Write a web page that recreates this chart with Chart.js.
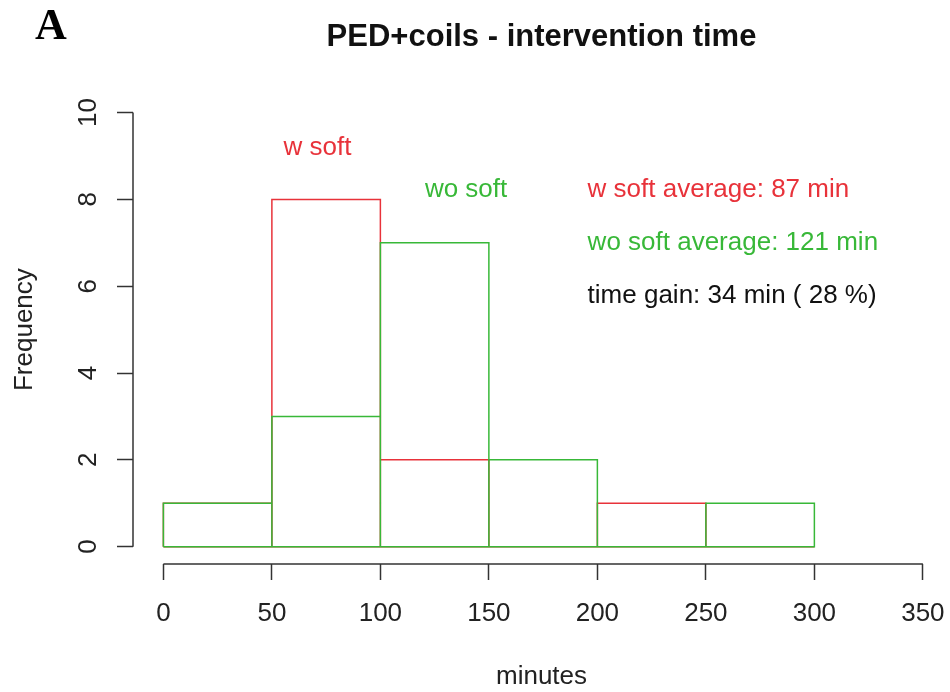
<!DOCTYPE html>
<html>
<head>
<meta charset="utf-8">
<script src="https://cdn.jsdelivr.net/npm/chart.js@4.4.1/dist/chart.umd.min.js"></script>
<style>
  html, body { margin: 0; padding: 0; background: #fff; }
  canvas { display: block; }
</style>
</head>
<body>
<canvas id="histChart" width="950" height="692"></canvas>
<script>
// histogram bins (minutes) and counts per bin
const binEdges = [0, 50, 100, 150, 200, 250, 300];
const wSoftCounts = [1, 8, 2, 0, 1, 0];
const woSoftCounts = [1, 3, 7, 2, 0, 1];
const xTicks = [0, 50, 100, 150, 200, 250, 300, 350];
const yTicks = [0, 2, 4, 6, 8, 10];
const wSoftAverage = 87;
const woSoftAverage = 121;

const RED = '#e8323a';
const GREEN = '#38b838';
const FONT = '"Liberation Sans", Arial, sans-serif';

const gain = woSoftAverage - wSoftAverage;
const gainPct = Math.round(gain / woSoftAverage * 100);

// R hist() style: one rect per bin, then back along the baseline
function histOutline(counts) {
  const pts = [];
  counts.forEach((c, i) => {
    const a = binEdges[i], b = binEdges[i + 1];
    pts.push({x: a, y: 0}, {x: a, y: c}, {x: b, y: c}, {x: b, y: 0});
  });
  pts.push({x: binEdges[0], y: 0});
  return pts;
}

// text labels placed in data units
const notes = [
  {text: 'w soft', x: 71, y: 9.03, color: RED, align: 'center'},
  {text: 'wo soft', x: 139.5, y: 8.06, color: GREEN, align: 'center'},
  {text: 'w soft average: ' + wSoftAverage + ' min', x: 195.5, y: 8.06, color: RED, align: 'left'},
  {text: 'wo soft average: ' + woSoftAverage + ' min', x: 195.5, y: 6.84, color: GREEN, align: 'left'},
  {text: 'time gain: ' + gain + ' min ( ' + gainPct + ' %)', x: 195.5, y: 5.62, color: '#111', align: 'left'}
];

const rExtras = {
  id: 'rExtras',
  beforeDatasetsDraw(chart) {
    const {ctx, scales: {x, y}} = chart;
    ctx.save();
    ctx.strokeStyle = '#333';
    ctx.lineWidth = 1.5;
    ctx.beginPath();
    ctx.moveTo(x.getPixelForValue(xTicks[0]), y.bottom);
    ctx.lineTo(x.getPixelForValue(xTicks[xTicks.length - 1]), y.bottom);
    ctx.moveTo(x.left, y.getPixelForValue(yTicks[0]));
    ctx.lineTo(x.left, y.getPixelForValue(yTicks[yTicks.length - 1]));
    ctx.stroke();
    ctx.restore();
  },
  afterDraw(chart) {
    const {ctx, scales: {x, y}} = chart;
    ctx.save();
    ctx.font = '26px ' + FONT;
    ctx.textBaseline = 'alphabetic';
    notes.forEach(n => {
      ctx.fillStyle = n.color;
      ctx.textAlign = n.align;
      ctx.fillText(n.text, x.getPixelForValue(n.x), y.getPixelForValue(n.y));
    });
    ctx.fillStyle = '#000';
    ctx.textAlign = 'center';
    ctx.font = 'bold 44px "Liberation Serif", "Times New Roman", serif';
    ctx.fillText('A', 51, 39);
    ctx.restore();
  }
};

Chart.defaults.font.family = FONT;
Chart.defaults.color = '#222';

new Chart(document.getElementById('histChart'), {
  type: 'scatter',
  data: {
    datasets: [
      {
        label: 'wo soft',
        data: histOutline(woSoftCounts),
        showLine: true,
        borderColor: GREEN,
        borderWidth: 1.5,
        pointRadius: 0,
        tension: 0,
        order: 1
      },
      {
        label: 'w soft',
        data: histOutline(wSoftCounts),
        showLine: true,
        borderColor: RED,
        borderWidth: 1.5,
        pointRadius: 0,
        tension: 0,
        order: 2
      }
    ]
  },
  options: {
    responsive: false,
    animation: false,
    devicePixelRatio: 1,
    layout: {padding: 0},
    plugins: {
      legend: {display: false},
      tooltip: {enabled: false},
      title: {
        display: true,
        fullSize: false,
        text: 'PED+coils - intervention time',
        color: '#111',
        font: {size: 31, weight: 'bold'},
        padding: {top: 19, bottom: 39}
      }
    },
    scales: {
      x: {
        type: 'linear',
        min: -14,
        max: 362.5,
        afterBuildTicks: s => { s.ticks = xTicks.map(v => ({value: v})); },
        afterFit: s => { s.height = 128; s.paddingLeft = 0; s.paddingRight = 0; },
        border: {display: false},
        grid: {drawOnChartArea: false, drawTicks: true, tickLength: 16, tickColor: '#333', tickWidth: 1.5},
        ticks: {font: {size: 26}, padding: 18, autoSkip: false, maxRotation: 0, color: '#222'},
        title: {display: true, text: 'minutes', font: {size: 26}, color: '#222', padding: {top: 0, bottom: 0}}
      },
      y: {
        min: -0.4,
        max: 10.4,
        afterBuildTicks: s => { s.ticks = yTicks.map(v => ({value: v})); },
        afterFit: s => { s.width = 133; s.paddingTop = 0; s.paddingBottom = 0; },
        border: {display: false},
        grid: {drawOnChartArea: false, drawTicks: true, tickLength: 16, tickColor: '#333', tickWidth: 1.5},
        ticks: {font: {size: 26}, padding: 14, minRotation: 90, maxRotation: 90, crossAlign: 'center', color: '#222'},
        title: {display: true, text: 'Frequency', font: {size: 26}, color: '#222', padding: {top: 9, bottom: 0}}
      }
    }
  },
  plugins: [rExtras]
});
</script>
</body>
</html>
